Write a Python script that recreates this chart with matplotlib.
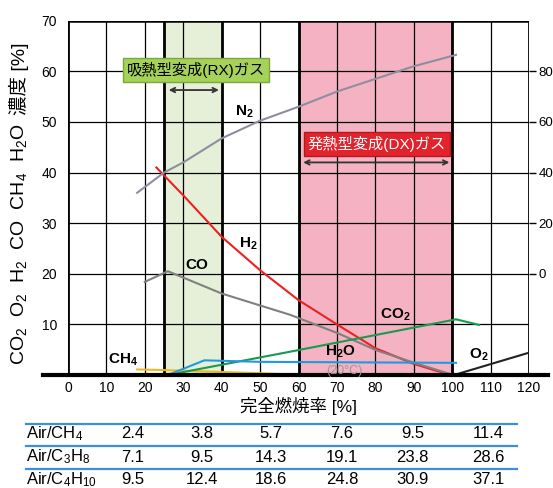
import matplotlib
matplotlib.use("Agg")
import matplotlib.pyplot as plt
from matplotlib.lines import Line2D

plt.rcParams['font.family'] = ['Liberation Sans', 'Noto Sans CJK JP', 'DejaVu Sans']
plt.rcParams['mathtext.fontset'] = 'custom'
plt.rcParams['mathtext.rm'] = 'Liberation Sans'
plt.rcParams['mathtext.it'] = 'Liberation Sans:italic'
plt.rcParams['mathtext.bf'] = 'Liberation Sans:bold'
plt.rcParams['mathtext.default'] = 'rm'

# ---- data (x = 完全燃焼率 %, y = concentration %) ----
n2_x = [18, 25, 30, 40, 50, 60, 70, 80, 90, 101]
n2_y = [32, 40, 44, 53.5, 60.5, 66, 72, 77, 82, 86.5]          # right axis scale
h2_x = [23, 30, 40, 50, 60, 70, 80, 90, 99.5]
h2_y = [41, 35.5, 27.3, 20.7, 14.8, 10, 5.3, 2.2, 0]
co_x = [20, 26, 40, 57.8, 70.4, 80.2, 90.6, 100.3]
co_y = [18.4, 20.5, 16.1, 11.9, 8.2, 4.9, 2.3, 0]
co2_x = [26, 57.8, 101, 107]
co2_y = [0, 4.6, 11, 9.9]
h2o_x = [26, 35.5, 50, 101]
h2o_y = [0, 2.9, 2.6, 2.4]
ch4_x = [18, 26, 50, 58]
ch4_y = [1.1, 0.95, 0.35, 0.1]
o2_x = [100.5, 119.5]
o2_y = [0, 4.3]

x_ticks = list(range(0, 121, 10))
y_ticks = list(range(10, 71, 10))
y2_ticks = [0, 20, 40, 60, 80]
rx_range = (25, 40)
dx_range = (60, 100)

table_rows = ['Air/CH$_4$', 'Air/C$_3$H$_8$', 'Air/C$_4$H$_{10}$']
table_vals = [
    ['2.4', '3.8', '5.7', '7.6', '9.5', '11.4'],
    ['7.1', '9.5', '14.3', '19.1', '23.8', '28.6'],
    ['9.5', '12.4', '18.6', '24.8', '30.9', '37.1'],
]

W, H = 553, 488
fig = plt.figure(figsize=(W / 100, H / 100), dpi=100)
ax = fig.add_axes([68 / W, 1 - 375 / H, (529 - 68) / W, (375 - 20.7) / H])
ax.set_xlim(0, 120)
ax.set_ylim(0, 70)
for s in ax.spines.values():
    s.set_visible(False)

# bands
ax.axvspan(*rx_range, color='#e6f0d8', zorder=0, lw=0)
ax.axvspan(*dx_range, color='#f5b2c2', zorder=0, lw=0)

# grid
thick = {0, 25, 40, 60, 100, 120}
for xv in sorted(set(x_ticks) | {25}):
    ax.axvline(xv, color='black', lw=2.0 if xv in thick else 0.9, zorder=1)
for yv in y_ticks:
    ax.axhline(yv, color='black', lw=1.8 if yv == 70 else 0.9, zorder=1)
ax.axhline(0, xmin=-0.054, xmax=1.041, color='black', lw=3, clip_on=False, zorder=5)

ax.set_xticks(x_ticks)
ax.set_yticks(y_ticks)
ax.tick_params(axis='both', length=0, labelsize=10)
ax.tick_params(axis='x', pad=4)
ax.tick_params(axis='y', pad=8)
ax.set_xlabel('完全燃焼率 [%]', fontsize=12.5, labelpad=2)

# curves
LW = 1.5
ax.plot(h2_x, h2_y, color='#ee2020', lw=LW, zorder=4)
ax.plot(co_x, co_y, color='#808080', lw=LW, zorder=4)
ax.plot(co2_x, co2_y, color='#1a9950', lw=LW, zorder=4)
ax.plot(h2o_x, h2o_y, color='#1e9be0', lw=LW, zorder=4)
ax.plot(ch4_x, ch4_y, color='#f0b820', lw=LW, zorder=3)
ax.plot(o2_x, o2_y, color='#222222', lw=LW, zorder=4)

ax2 = ax.twinx()
ax2.set_ylim(-40, 100)
for s in ax2.spines.values():
    s.set_visible(False)
ax2.set_yticks(y2_ticks)
ax2.tick_params(axis='y', direction='out', length=5, width=1, labelsize=9.5, pad=2)
ax2.plot(n2_x, n2_y, color='#8e8ea0', lw=LW, zorder=4)

# curve labels
lab = dict(fontsize=11, fontweight='bold', ha='center', va='center', zorder=6)
ax.text(46, 52, r'N$_\mathbf{2}$', **lab)
ax.text(46.9, 26, r'H$_\mathbf{2}$', **lab)
ax.text(33.5, 21.7, 'CO', **lab)
ax.text(85.2, 11.9, r'CO$_\mathbf{2}$', **lab)
ax.text(70.8, 4.6, r'H$_\mathbf{2}$O', **lab)
ax.text(72, 0.75, '(20°C)', fontsize=9, color='#999999', ha='center', va='center', zorder=6)
ax.text(106.8, 4.0, r'O$_\mathbf{2}$', **lab)
ax.text(14.4, 3.0, r'CH$_\mathbf{4}$', **lab)

# gas boxes and arrows
ax.text(33.4, 60.2, '吸熱型変成(RX)ガス', fontsize=11, ha='center', va='center', color='black', zorder=7,
        bbox=dict(boxstyle='square,pad=0.25', fc='#a6d25a', ec='#7aa83a', lw=1))
ax.annotate('', xy=(rx_range[0] + 0.5, 56.3), xytext=(rx_range[1], 56.3),
            arrowprops=dict(arrowstyle='<->', color='#333333', lw=1.3, mutation_scale=8), zorder=7)
ax.text(80.4, 45.6, '発熱型変成(DX)ガス', fontsize=11, ha='center', va='center', color='white', zorder=7,
        bbox=dict(boxstyle='square,pad=0.25', fc='#e2232b', ec='#b01a20', lw=1))
ax.annotate('', xy=(dx_range[0] + 0.5, 42), xytext=(dx_range[1], 42),
            arrowprops=dict(arrowstyle='<->', color='#333333', lw=1.3, mutation_scale=8), zorder=7)

# y label in two parts (math part + Japanese part)
yl1 = fig.text(19 / W, 1 - 365 / H, 'CO$_2$  O$_2$  H$_2$  CO  CH$_4$  H$_2$O', fontsize=14,
               rotation=90, ha='center', va='bottom')
fig.canvas.draw()
bb = yl1.get_window_extent(fig.canvas.get_renderer())
fig.text(19 / W, (bb.y1 + 8) / H, '濃度 [%]', fontsize=14, rotation=90, ha='center', va='bottom')

# table below
line_y = [423.5, 446, 468.5]
row_y = [434, 457, 480]
col_x = [133, 202, 271, 342, 412.5, 488]
for ly in line_y:
    fig.add_artist(Line2D([26 / W, 517 / W], [1 - ly / H, 1 - ly / H], color='#3c8fd8', lw=1.6))
for r, name in enumerate(table_rows):
    fig.text(26 / W, 1 - row_y[r] / H, name, fontsize=12, ha='left', va='center')
    for c, v in enumerate(table_vals[r]):
        fig.text(col_x[c] / W, 1 - row_y[r] / H, v, fontsize=12, ha='center', va='center')

fig.savefig('out.png', dpi=100)
